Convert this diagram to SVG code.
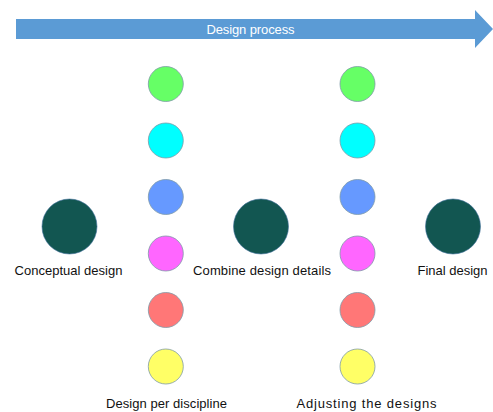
<svg xmlns="http://www.w3.org/2000/svg" width="493" height="412" viewBox="0 0 493 412">
<style>
text{font-family:"Liberation Sans",Arial,sans-serif;font-size:13px;fill:#111;text-anchor:middle}
.big{fill:#125651;stroke:#41719c;stroke-width:0.6}
.sm{stroke:#7f9aa8;stroke-width:0.8}
</style>
<rect width="493" height="412" fill="#fff"/>
<g id="process-arrow">
<polygon points="16,19 475,19 475,10 493,29 475,48 475,39 16,39" fill="#5b9bd5"/>
<text x="250.5" y="33.5" style="fill:#fff" textLength="88">Design process</text>
</g>
<g id="connectors"></g>
<g id="conceptual">
<circle class="big" cx="69.5" cy="226.5" r="27.5"/>
<text x="68.5" y="274.5" textLength="108">Conceptual design</text>
</g>
<g id="combine">
<circle class="big" cx="261" cy="226.5" r="27.5"/>
<text x="262" y="274.5" textLength="138">Combine design details</text>
</g>
<g id="final">
<circle class="big" cx="453" cy="226.5" r="27.5"/>
<text x="452.5" y="274.5" textLength="70">Final design</text>
</g>
<g id="per-discipline">
<circle class="sm" cx="165.8" cy="84" r="17.5" fill="#66ff66"/>
<circle class="sm" cx="165.8" cy="140.5" r="17.5" fill="#00ffff"/>
<circle class="sm" cx="165.8" cy="197" r="17.5" fill="#6699ff"/>
<circle class="sm" cx="165.8" cy="253.5" r="17.5" fill="#ff66ff"/>
<circle class="sm" cx="165.8" cy="310" r="17.5" fill="#ff7777"/>
<circle class="sm" cx="165.8" cy="366.5" r="17.5" fill="#ffff66"/>
<text x="166.5" y="407.5" textLength="121">Design per discipline</text>
</g>
<g id="adjusting">
<circle class="sm" cx="357.5" cy="84" r="17.5" fill="#66ff66"/>
<circle class="sm" cx="357.5" cy="140.5" r="17.5" fill="#00ffff"/>
<circle class="sm" cx="357.5" cy="197" r="17.5" fill="#6699ff"/>
<circle class="sm" cx="357.5" cy="253.5" r="17.5" fill="#ff66ff"/>
<circle class="sm" cx="357.5" cy="310" r="17.5" fill="#ff7777"/>
<circle class="sm" cx="357.5" cy="366.5" r="17.5" fill="#ffff66"/>
<text x="366.5" y="407.5" textLength="140">Adjusting the designs</text>
</g>
</svg>
